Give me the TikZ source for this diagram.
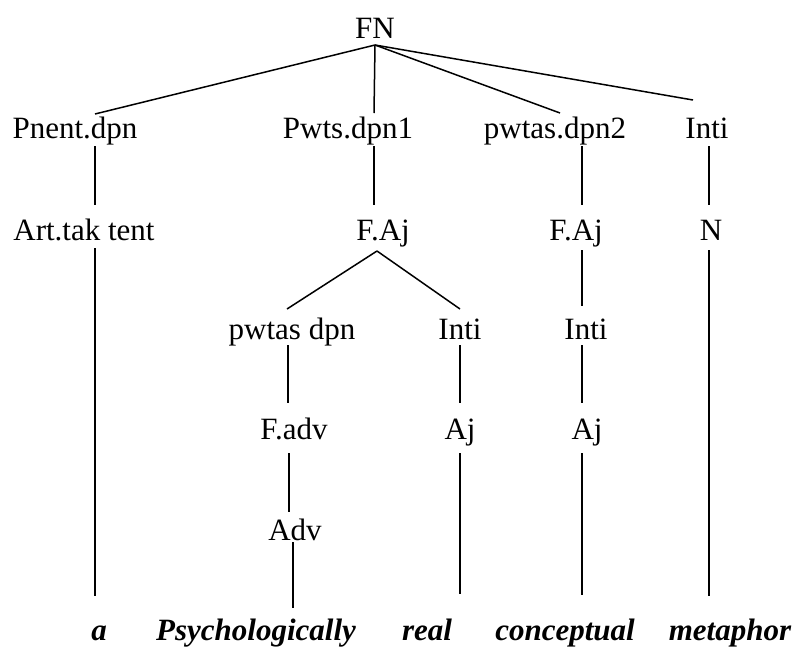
\documentclass[tikz,border=0pt]{standalone}
\usepackage{fontspec}
\setmainfont{Liberation Serif}
\usetikzlibrary{calc}
\begin{document}
\begin{tikzpicture}[x=1pt,y=-1pt,
  lbl/.style={anchor=base,inner sep=0pt,font=\fontsize{31}{37}\selectfont},
  word/.style={anchor=base,inner sep=0pt,font=\fontsize{31}{37}\selectfont\bfseries\itshape},
  edge/.style={line width=1.5pt}]
\useasboundingbox (0,0) rectangle (798,646);
% nodes
\node[lbl] (fn) at (375,38) {FN};
\node[lbl] (pnent) at (75,138) {Pnent.dpn};
\node[lbl] (pwts) at (348,138) {Pwts.dpn1};
\node[lbl] (pwtasb) at (555,138) {pwtas.dpn2};
\node[lbl] (intia) at (707,138) {Inti};
\node[lbl] (art) at (84,240) {Art.tak tent};
\node[lbl] (faja) at (383,240) {F.Aj};
\node[lbl] (fajb) at (576,240) {F.Aj};
\node[lbl] (nn) at (711,240) {N};
\node[lbl] (pwdpn) at (292,339) {pwtas dpn};
\node[lbl] (intib) at (460,339) {Inti};
\node[lbl] (intic) at (586,339) {Inti};
\node[lbl] (fadv) at (294,439) {F.adv};
\node[lbl] (aja) at (460,439) {Aj};
\node[lbl] (ajb) at (587,439) {Aj};
\node[lbl] (adv) at (295,540) {Adv};
\node[word] (wa) at (99,640) {a};
\node[word] (wpsy) at (256,640) {Psychologically};
\node[word] (wreal) at (427,640) {real};
\node[word] (wcon) at (565,640) {conceptual};
\node[word] (wmet) at (730,640) {metaphor};
% connectors
\draw[edge] ($(fn.base)+(0,7)$) -- ($(pnent.base)+(20,-24)$);
\draw[edge] ($(fn.base)+(0,7)$) -- ($(pwts.base)+(26,-25)$);
\draw[edge] ($(fn.base)+(0,7)$) -- ($(pwtasb.base)+(5,-25)$);
\draw[edge] ($(fn.base)+(0,7)$) -- ($(intia.base)+(-14,-38)$);
\draw[edge] ($(pnent.base)+(20,8)$) -- ($(art.base)+(11,-35)$);
\draw[edge] ($(pwts.base)+(26,8)$) -- ($(faja.base)+(-9,-35)$);
\draw[edge] ($(pwtasb.base)+(27,8)$) -- ($(fajb.base)+(6,-35)$);
\draw[edge] ($(intia.base)+(2,8)$) -- ($(nn.base)+(-2,-35)$);
\draw[edge] ($(art.base)+(11,8)$) -- ($(wa.base)+(-4,-44)$);
\draw[edge] ($(faja.base)+(-6,11)$) -- ($(pwdpn.base)+(-5,-30)$);
\draw[edge] ($(faja.base)+(-6,11)$) -- ($(intib.base)+(0,-30)$);
\draw[edge] ($(fajb.base)+(6,10)$) -- ($(intic.base)+(-4,-33)$);
\draw[edge] ($(nn.base)+(-2,10)$) -- ($(wmet.base)+(-21,-44)$);
\draw[edge] ($(pwdpn.base)+(-4,6)$) -- ($(fadv.base)+(-6,-36)$);
\draw[edge] ($(intib.base)+(0,6)$) -- ($(aja.base)+(0,-36)$);
\draw[edge] ($(intic.base)+(-4,6)$) -- ($(ajb.base)+(-5,-36)$);
\draw[edge] ($(fadv.base)+(-5,14)$) -- ($(adv.base)+(-6,-28)$);
\draw[edge] ($(aja.base)+(0,14)$) -- ($(wreal.base)+(33,-46)$);
\draw[edge] ($(ajb.base)+(-5,14)$) -- ($(wcon.base)+(17,-45)$);
\draw[edge] ($(adv.base)+(-2,2)$) -- ($(wpsy.base)+(37,-32)$);
\end{tikzpicture}
\end{document}
